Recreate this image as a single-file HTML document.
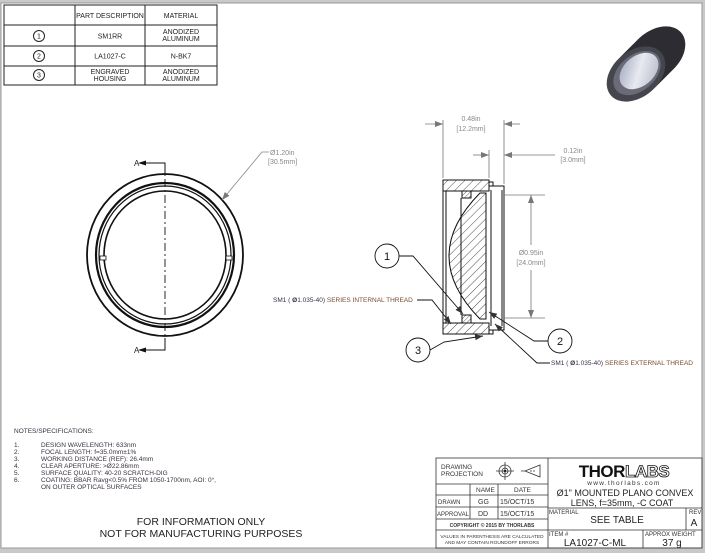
<!DOCTYPE html>
<html><head><meta charset="utf-8"><style>
html,body{margin:0;padding:0;background:#c9c9c9;}
svg{display:block;font-family:"Liberation Sans",sans-serif;}
</style></head><body>
<svg width="705" height="553" viewBox="0 0 705 553" xmlns="http://www.w3.org/2000/svg">
<defs>
<pattern id="h" width="6" height="6" patternUnits="userSpaceOnUse" patternTransform="rotate(45)">
<rect width="6" height="6" fill="#fff"/><line x1="0" y1="0" x2="0" y2="6" stroke="#222" stroke-width="0.8"/></pattern>
<pattern id="h2" width="3" height="3" patternUnits="userSpaceOnUse" patternTransform="rotate(45)">
<rect width="3" height="3" fill="#fff"/><line x1="0" y1="0" x2="0" y2="3" stroke="#222" stroke-width="0.7"/></pattern>
<marker id="a" markerWidth="8" markerHeight="6" refX="8" refY="3" orient="auto" markerUnits="userSpaceOnUse"><path d="M0,0 L8,3 L0,6z" fill="#333"/></marker>
<marker id="ag" markerWidth="8" markerHeight="6" refX="8" refY="3" orient="auto" markerUnits="userSpaceOnUse"><path d="M0,0 L8,3 L0,6z" fill="#777"/></marker>
<linearGradient id="lens" x1="0" y1="0" x2="1" y2="1"><stop offset="0" stop-color="#9aa0b8"/><stop offset="0.5" stop-color="#e8eaf0"/><stop offset="1" stop-color="#b0b4c4"/></linearGradient>
</defs>
<rect x="1" y="3" width="701" height="545" fill="#fff" stroke="#999"/>

<!-- header table -->
<g stroke="#222" stroke-width="1" fill="none">
<rect x="4" y="5" width="213" height="80"/>
<line x1="75" y1="5" x2="75" y2="85"/><line x1="145" y1="5" x2="145" y2="85"/>
<line x1="4" y1="25" x2="217" y2="25"/><line x1="4" y1="46" x2="217" y2="46"/><line x1="4" y1="66" x2="217" y2="66"/>
<circle cx="39" cy="36" r="5.5"/><circle cx="39" cy="56" r="5.5"/><circle cx="39" cy="75" r="5.5"/>
</g>
<g font-size="7" fill="#222" text-anchor="middle">
<text x="110" y="18">PART DESCRIPTION</text><text x="181" y="18">MATERIAL</text>
<text x="39" y="38.5" font-size="7">1</text><text x="39" y="58.5">2</text><text x="39" y="77.5">3</text>
<text x="110" y="38.5">SM1RR</text><text x="181" y="34">ANODIZED</text><text x="181" y="41">ALUMINUM</text>
<text x="110" y="58.5">LA1027-C</text><text x="181" y="58.5">N-BK7</text>
<text x="110" y="74">ENGRAVED</text><text x="110" y="81">HOUSING</text><text x="181" y="74">ANODIZED</text><text x="181" y="81">ALUMINUM</text>
</g>

<!-- photo: stacked ellipses form cylinder -->
<g fill="#2c2c32">
<ellipse cx="656" cy="54" rx="33" ry="23" transform="rotate(-40 656 54)"/>
<ellipse cx="652" cy="58" rx="33" ry="23" transform="rotate(-40 652 58)"/>
<ellipse cx="648" cy="62" rx="33" ry="23" transform="rotate(-40 648 62)"/>
<ellipse cx="644" cy="66" rx="33" ry="23" transform="rotate(-40 644 66)"/>
<ellipse cx="640" cy="70" rx="33" ry="23" transform="rotate(-40 640 70)"/>
</g>
<ellipse cx="636" cy="74" rx="33" ry="23" transform="rotate(-40 636 74)" fill="#45454e"/>
<ellipse cx="637" cy="73" rx="27" ry="18" transform="rotate(-40 637 73)" fill="#6a6a78"/>
<ellipse cx="639" cy="71" rx="22" ry="15" transform="rotate(-40 639 71)" fill="url(#lens)"/>

<!-- front view -->
<g fill="none" stroke="#111">
<ellipse cx="165" cy="255" rx="78" ry="81" stroke-width="1.8"/>
<ellipse cx="165" cy="255" rx="69" ry="72" stroke-width="2.2"/>
<ellipse cx="165" cy="255" rx="66" ry="69" stroke-width="1.2"/>
<ellipse cx="165" cy="255" rx="61" ry="64" stroke-width="1.6"/>
<rect x="100" y="256" width="6" height="4" fill="#fff" stroke-width="0.8"/>
<rect x="226" y="256" width="6" height="4" fill="#fff" stroke-width="0.8"/>
<line x1="165" y1="163" x2="165" y2="350" stroke-dasharray="8,3,2,3" stroke-width="0.9"/>
<polyline points="165,175 165,163 145,163" stroke-width="1"/>
<polyline points="165,338 165,350 145,350" stroke-width="1"/>
</g>
<path d="M138,163 l8,-2.5 v5z M138,350 l8,-2.5 v5z" fill="#111"/>
<text x="134" y="166" font-size="8" fill="#222">A</text>
<text x="134" y="353" font-size="8" fill="#222">A</text>
<polyline points="269,152 262,152 222,200" fill="none" stroke="#888" stroke-width="0.8" marker-end="url(#ag)"/>
<g font-size="7" fill="#888"><text x="270" y="155">Ø1.20in</text><text x="268" y="164">[30.5mm]</text></g>

<!-- side section -->
<g stroke="#111" stroke-width="1">
<rect x="443" y="180" width="46" height="11" fill="url(#h)"/>
<rect x="443" y="323" width="46" height="11" fill="url(#h)"/>
<path d="M486,193 L486,319 L480,319 Q418,256 480,193 Z" fill="url(#h)"/>
<rect x="462" y="191" width="9" height="7" fill="url(#h2)"/>
<rect x="462" y="315" width="9" height="8" fill="url(#h2)"/>
<line x1="443" y1="191" x2="443" y2="323" fill="none"/>
<line x1="446" y1="191" x2="446" y2="323"/>
<line x1="461" y1="198" x2="461" y2="315"/>
<path d="M489,186 L504,186 L504,330 L489,330" fill="none"/>
<line x1="491" y1="190" x2="491" y2="326"/>
<line x1="502" y1="190" x2="502" y2="326"/>
<path d="M489,186 v-4 h4 v4 M489,330 v4 h4 v-4" fill="none"/>
</g>
<!-- dims -->
<g stroke="#777" stroke-width="0.8" fill="none">
<line x1="443" y1="120" x2="443" y2="178"/><line x1="504" y1="120" x2="504" y2="184"/>
<line x1="425" y1="124" x2="443" y2="124" marker-end="url(#ag)"/><line x1="520" y1="124" x2="504" y2="124" marker-end="url(#ag)"/>
<line x1="489" y1="150" x2="489" y2="178"/>
<line x1="473" y1="155" x2="489" y2="155" marker-end="url(#ag)"/><line x1="555" y1="155" x2="504" y2="155" marker-end="url(#ag)"/>
<line x1="504" y1="195" x2="545" y2="195"/><line x1="504" y1="318" x2="545" y2="318"/>
<line x1="531" y1="245" x2="531" y2="195" marker-end="url(#ag)"/><line x1="531" y1="270" x2="531" y2="318" marker-end="url(#ag)"/>
</g>
<g font-size="7" fill="#888" text-anchor="middle">
<text x="471" y="121">0.48in</text><text x="471" y="131">[12.2mm]</text>
<text x="573" y="153">0.12in</text><text x="573" y="162">[3.0mm]</text>
<text x="531" y="255">Ø0.95in</text><text x="531" y="265">[24.0mm]</text>
</g>
<!-- callouts -->
<g stroke="#111" stroke-width="0.9" fill="none">
<circle cx="387" cy="256" r="12" fill="#fff"/>
<polyline points="399,256 413,256 463,314" marker-end="url(#a)"/>
<circle cx="560" cy="341" r="12" fill="#fff"/>
<polyline points="548,341 534,341 489,312" marker-end="url(#a)"/>
<circle cx="418" cy="350" r="12" fill="#fff"/>
<polyline points="430,350 444,342 483,336" marker-end="url(#a)"/>
<polyline points="417,300 432,300 451,324" marker-end="url(#a)"/>
<polyline points="550,363 537,363 495,324" marker-end="url(#a)"/>
</g>
<g font-size="11" fill="#111" text-anchor="middle">
<text x="387" y="260">1</text><text x="560" y="345">2</text><text x="418" y="354">3</text>
</g>
<g font-size="6.5" fill="#3a3050">
<text x="273" y="302">SM1 ( <tspan font-weight="bold">Ø</tspan>1.035-40) <tspan fill="#7a4a30">SERIES INTERNAL THREAD</tspan></text>
<text x="551" y="365">SM1 ( <tspan font-weight="bold">Ø</tspan>1.035-40) <tspan fill="#7a4a30">SERIES EXTERNAL THREAD</tspan></text>
</g>

<!-- notes -->
<g font-size="6.5" fill="#3a3040">
<text x="14" y="433">NOTES/SPECIFICATIONS:</text>
<text x="14" y="447">1.</text><text x="41" y="447">DESIGN WAVELENGTH: 633nm</text>
<text x="14" y="454">2.</text><text x="41" y="454">FOCAL LENGTH: f=35.0mm±1%</text>
<text x="14" y="461">3.</text><text x="41" y="461">WORKING DISTANCE (REF): 26.4mm</text>
<text x="14" y="468">4.</text><text x="41" y="468">CLEAR APERTURE: &gt;Ø22.86mm</text>
<text x="14" y="475">5.</text><text x="41" y="475">SURFACE QUALITY: 40-20 SCRATCH-DIG</text>
<text x="14" y="482">6.</text><text x="41" y="482">COATING: BBAR Ravg&lt;0.5% FROM 1050-1700nm, AOI: 0°,</text>
<text x="41" y="489">ON OUTER OPTICAL SURFACES</text>
</g>
<g font-size="10.5" fill="#222" text-anchor="middle">
<text x="201" y="525">FOR INFORMATION ONLY</text>
<text x="201" y="537">NOT FOR MANUFACTURING PURPOSES</text>
</g>

<!-- title block -->
<g stroke="#333" stroke-width="0.8" fill="none">
<rect x="436" y="458" width="266" height="90"/>
<line x1="548" y1="458" x2="548" y2="548"/>
<line x1="436" y1="484" x2="548" y2="484"/>
<line x1="436" y1="495" x2="548" y2="495"/>
<line x1="436" y1="507" x2="548" y2="507"/>
<line x1="436" y1="519" x2="548" y2="519"/>
<line x1="436" y1="530" x2="548" y2="530"/>
<line x1="470" y1="484" x2="470" y2="519"/>
<line x1="498" y1="484" x2="498" y2="519"/>
<line x1="548" y1="508" x2="702" y2="508"/>
<line x1="548" y1="530" x2="702" y2="530"/>
<line x1="686" y1="508" x2="686" y2="530"/>
<line x1="643" y1="530" x2="643" y2="548"/>
<circle cx="505" cy="471" r="6"/><circle cx="505" cy="471" r="3"/>
<line x1="496" y1="471" x2="514" y2="471"/><line x1="505" y1="462" x2="505" y2="480"/>
<path d="M521,471 h4 l15,-6 v12 l-15,-6" />
<line x1="530" y1="471" x2="536" y2="471" stroke-dasharray="2,1"/>
</g>
<circle cx="505" cy="471" r="1.3" fill="#222"/>
<g font-size="6.5" fill="#333">
<text x="441" y="469">DRAWING</text><text x="441" y="476">PROJECTION</text>
<text x="476" y="492">NAME</text><text x="514" y="492">DATE</text>
<text x="438" y="504" font-size="6">DRAWN</text><text x="478" y="504" font-size="7">GG</text><text x="500" y="504" font-size="7">15/OCT/15</text>
<text x="437" y="516" font-size="6">APPROVAL</text><text x="478" y="516" font-size="7">DD</text><text x="500" y="516" font-size="7">15/OCT/15</text>
<text x="492" y="527" font-size="5" text-anchor="middle" font-weight="bold">COPYRIGHT © 2015 BY THORLABS</text>
<text x="492" y="538" font-size="4.8" text-anchor="middle">VALUES IN PARENTHESIS ARE CALCULATED</text>
<text x="492" y="544" font-size="4.8" text-anchor="middle">AND MAY CONTAIN ROUNDOFF ERRORS</text>
<text x="549" y="514" font-size="6">MATERIAL</text>
<text x="689" y="514" font-size="6">REV</text>
<text x="549" y="536" font-size="6">ITEM #</text>
<text x="645" y="536" font-size="6">APPROX WEIGHT</text>
</g>
<text x="624" y="477" font-size="17" font-weight="bold" text-anchor="middle" fill="#111" letter-spacing="-0.5">THOR<tspan fill="#fff" stroke="#111" stroke-width="0.8">LABS</tspan></text>
<text x="624" y="485" font-size="6.5" text-anchor="middle" fill="#333" letter-spacing="1.3">www.thorlabs.com</text>
<g fill="#222" text-anchor="middle" font-size="9">
<text x="625" y="496">Ø1" MOUNTED PLANO CONVEX</text>
<text x="622" y="506">LENS, f=35mm, -C COAT</text>
<text x="617" y="523" font-size="10">SEE TABLE</text>
<text x="694" y="526" font-size="10">A</text>
<text x="595" y="546" font-size="10">LA1027-C-ML</text>
<text x="672" y="546" font-size="10">37 g</text>
</g>
</svg>
</body></html>
